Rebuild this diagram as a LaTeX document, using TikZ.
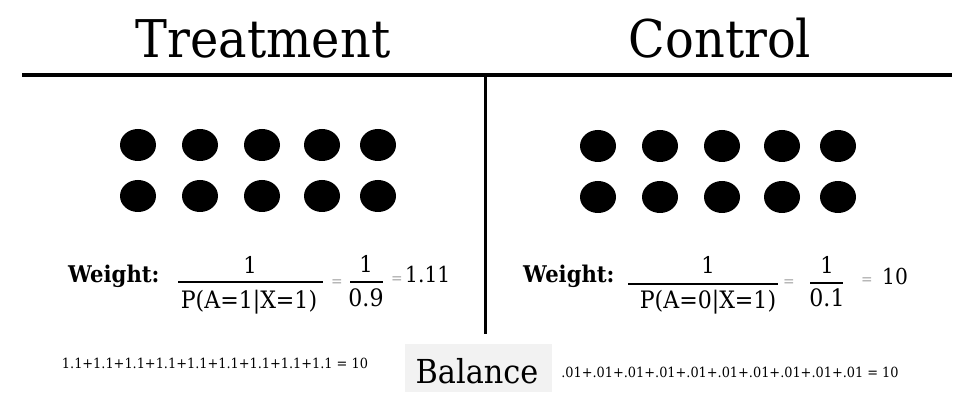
\documentclass[tikz,border=0pt]{standalone}
\usepackage{fontspec}
\setmainfont[FakeStretch=0.92]{DejaVu Serif}
\newfontfamily\titlefont[FakeStretch=0.92]{DejaVu Serif}
\begin{document}
\begin{tikzpicture}[x=1pt,y=-1pt,
  title/.style={font=\titlefont\fontsize{52}{60}\selectfont, inner sep=0pt, anchor=base},
  dot/.style={fill=black, draw=none},
  wlabel/.style={font=\bfseries\fontsize{23}{26}\selectfont, inner sep=0pt, anchor=base west},
  fnum/.style={font=\fontsize{23}{26}\selectfont, inner sep=0pt},
  fden/.style={font=\fontsize{24}{27}\selectfont, inner sep=0pt},
  eqs/.style={font=\fontsize{15}{18}\selectfont, text=black!35, inner sep=0pt},
  res/.style={font=\fontsize{22}{25}\selectfont, inner sep=0pt, anchor=west},
  sumtxt/.style={font=\fontsize{14}{16}\selectfont, inner sep=0pt},
  rule/.style={line width=3.5pt, black},
  bar/.style={line width=1.3pt, black}
]
\useasboundingbox (0,0) rectangle (976,395);
\fill[white] (0,0) rectangle (976,395);

% titles
\node[title] (tT) at (263,58) {Treatment};
\node[title] (tC) at (720,58) {Control};

% rules
\coordinate (hl) at (22,75);
\coordinate (hr) at (952,75);
\coordinate (vt) at (485,75);
\coordinate (vb) at (485,334);
\draw[rule] (hl) -- (hr);
\draw[line width=3pt] (vt) -- (vb);

% dots
\foreach \x in {138,200,262,322,378} {
  \fill[dot] (\x,145) ellipse [x radius=18, y radius=16];
  \fill[dot] (\x,196) ellipse [x radius=18, y radius=16];
}
\foreach \x in {598,660,722,782,838} {
  \fill[dot] (\x,146) ellipse [x radius=18, y radius=16];
  \fill[dot] (\x,197) ellipse [x radius=18, y radius=16];
}

% treatment weight
\node[wlabel] (wT) at (68,282) {Weight:};
\coordinate (bT1) at (178,282);
\coordinate (bT2) at (323,282);
\draw[bar] (bT1) -- (bT2);
\node[fnum] (nT) at (250,265) {1};
\node[fden] (dT) at (249,302) {P(A=1|X=1)};
\node[eqs] (eT1) at (337,283) {=};
\coordinate (sT1) at (350,282);
\coordinate (sT2) at (383,282);
\draw[bar] (sT1) -- (sT2);
\node[fnum] (snT) at (366,264) {1};
\node[fden] (sdT) at (366,298) {0.9};
\node[eqs] (eT2) at (397,280) {=};
\node[res] (rT) at (405,274) {1.11};

% control weight
\node[wlabel] (wC) at (523,282) {Weight:};
\coordinate (bC1) at (628,284);
\coordinate (bC2) at (778,284);
\draw[bar] (bC1) -- (bC2);
\node[fnum] (nC) at (708,265) {1};
\node[fden] (dC) at (708,302) {P(A=0|X=1)};
\node[eqs] (eC1) at (789,283) {=};
\coordinate (sC1) at (810,283);
\coordinate (sC2) at (843,283);
\draw[bar] (sC1) -- (sC2);
\node[fnum] (snC) at (827,265) {1};
\node[fden] (sdC) at (827,298) {0.1};
\node[eqs] (eC2) at (867,281) {=};
\node[res] (rC) at (882,276) {10};

% bottom
\node[sumtxt] (sumT) at (215,363) {1.1+1.1+1.1+1.1+1.1+1.1+1.1+1.1+1.1 = 10};
\fill[black!5] (405,344) rectangle (552,392);
\node[font=\fontsize{33}{38}\selectfont, inner sep=0pt, anchor=base] (bal) at (477,383) {Balance};
\node[sumtxt] (sumC) at (730,372) {.01+.01+.01+.01+.01+.01+.01+.01+.01+.01 = 10};
\end{tikzpicture}
\end{document}
